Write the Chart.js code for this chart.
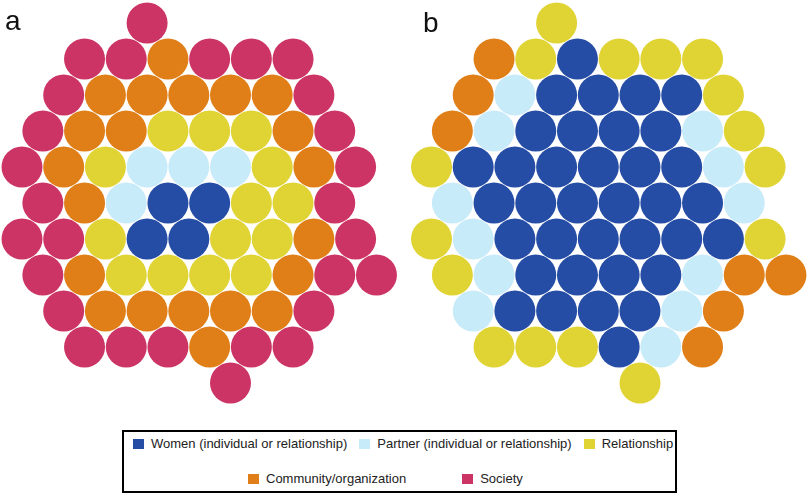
<!DOCTYPE html>
<html>
<head>
<meta charset="utf-8">
<script src="https://cdn.jsdelivr.net/npm/chart.js@4"></script>
<style>
  html, body { margin: 0; padding: 0; background: #fff; }
  body { width: 810px; height: 495px; position: relative; overflow: hidden;
         font-family: "Liberation Sans", Arial, sans-serif; }
  #wrap { position: absolute; left: 0; top: 0; width: 810px; height: 420px; }
  .panel-label { position: absolute; font-size: 28px; color: #111; line-height: 1; }
  #legend { position: absolute; left: 122px; top: 430px; width: 551px; height: 59px;
            border: 2px solid #000; }
  .lg-row { position: absolute; display: flex; align-items: center; font-size: 13px;
            color: #222; line-height: 16px; white-space: nowrap; }
  .lg-item { display: flex; align-items: center; }
  .lg-box { width: 11px; height: 10px; margin-right: 7px; }
</style>
</head>
<body>
<div id="wrap"><canvas id="hex"></canvas></div>
<div class="panel-label" style="left:5px; top:7px;">a</div>
<div class="panel-label" style="left:423px; top:9px;">b</div>
<div id="legend"></div>

<script>
// ------------------------------------------------------------
// categories + colours
// ------------------------------------------------------------
const CATEGORIES = [
  'Women (individual or relationship)',
  'Partner (individual or relationship)',
  'Relationship',
  'Community/organization',
  'Society',
];
const CODES  = ['W', 'P', 'R', 'C', 'S'];
const COLORS = ['#264da5', '#c8ebf9', '#e0d334', '#e07e17', '#cc3465'];
const LEGEND_ROWS = [[0, 1, 2], [3, 4]];

// hex grid, one string per row, '.' = empty half-step cell
const PANEL_A = [
  '......S...........',
  '...S.S.C.S.S.S....',
  '..S.C.C.C.C.C.S...',
  '.S.C.C.R.R.R.C.S..',
  'S.C.R.P.P.P.R.C.S.',
  '.S.C.P.W.W.R.R.S..',
  'S.S.R.W.W.R.R.C.S.',
  '.S.C.R.R.R.R.C.S.S',
  '..S.C.C.C.C.C.S...',
  '...S.S.S.C.S.S....',
  '..........S.......',
];
const PANEL_B = [
  '......R...........',
  '...C.R.W.R.R.R....',
  '..C.P.W.W.W.W.R...',
  '.C.P.W.W.W.W.P.R..',
  'R.W.W.W.W.W.W.P.R.',
  '.P.W.W.W.W.W.W.P..',
  'R.P.W.W.W.W.W.W.R.',
  '.R.P.W.W.W.W.P.C.C',
  '..P.W.W.W.W.P.C...',
  '...R.R.R.W.P.C....',
  '..........R.......',
];

// layout (pixels)
const W = 810, H = 420;
const HALF_STEP = 20.85;   // horizontal half spacing
const ROW_STEP  = 36;      // vertical spacing
const A_X0 = 22, B_X0 = 431.5, Y0 = 23;
const B_SHIFT = (B_X0 - A_X0) / HALF_STEP;

function cells(rows, code, shift) {
  const out = [];
  rows.forEach((row, r) => {
    for (let k = 0; k < row.length; k++) {
      if (row[k] === code) out.push({ x: k + shift, y: r });
    }
  });
  return out;
}

const datasets = CODES.map((code, i) => ({
  label: CATEGORIES[i],
  data: cells(PANEL_A, code, 0).concat(cells(PANEL_B, code, B_SHIFT)),
  backgroundColor: COLORS[i],
  borderWidth: 0,
  pointRadius: 20.5,
  pointHoverRadius: 20.5,
  clip: false,
}));

const xMin = -A_X0 / HALF_STEP;
const yMin = -Y0 / ROW_STEP;

new Chart(document.getElementById('hex').getContext('2d'), {
  type: 'scatter',
  data: { datasets },
  options: {
    responsive: true,
    maintainAspectRatio: false,
    animation: false,
    events: [],
    layout: { padding: 0, autoPadding: false },
    plugins: { legend: { display: false }, tooltip: { enabled: false } },
    scales: {
      x: { display: false, min: xMin, max: xMin + W / HALF_STEP },
      y: { display: false, reverse: true, min: yMin, max: yMin + H / ROW_STEP },
    },
  },
});

// ------------------------------------------------------------
// legend
// ------------------------------------------------------------
const legend = document.getElementById('legend');
const rowStyle = [
  { left: 9,   top: 4,  gap: 12 },
  { left: 124, top: 39, gap: 56 },
];
LEGEND_ROWS.forEach((idx, r) => {
  const row = document.createElement('div');
  row.className = 'lg-row';
  row.style.left = rowStyle[r].left + 'px';
  row.style.top  = rowStyle[r].top + 'px';
  row.style.gap  = rowStyle[r].gap + 'px';
  idx.forEach(i => {
    const it = document.createElement('div');
    it.className = 'lg-item';
    it.innerHTML = `<span class="lg-box" style="background:${COLORS[i]}"></span>${CATEGORIES[i]}`;
    row.appendChild(it);
  });
  legend.appendChild(row);
});
</script>
</body>
</html>
